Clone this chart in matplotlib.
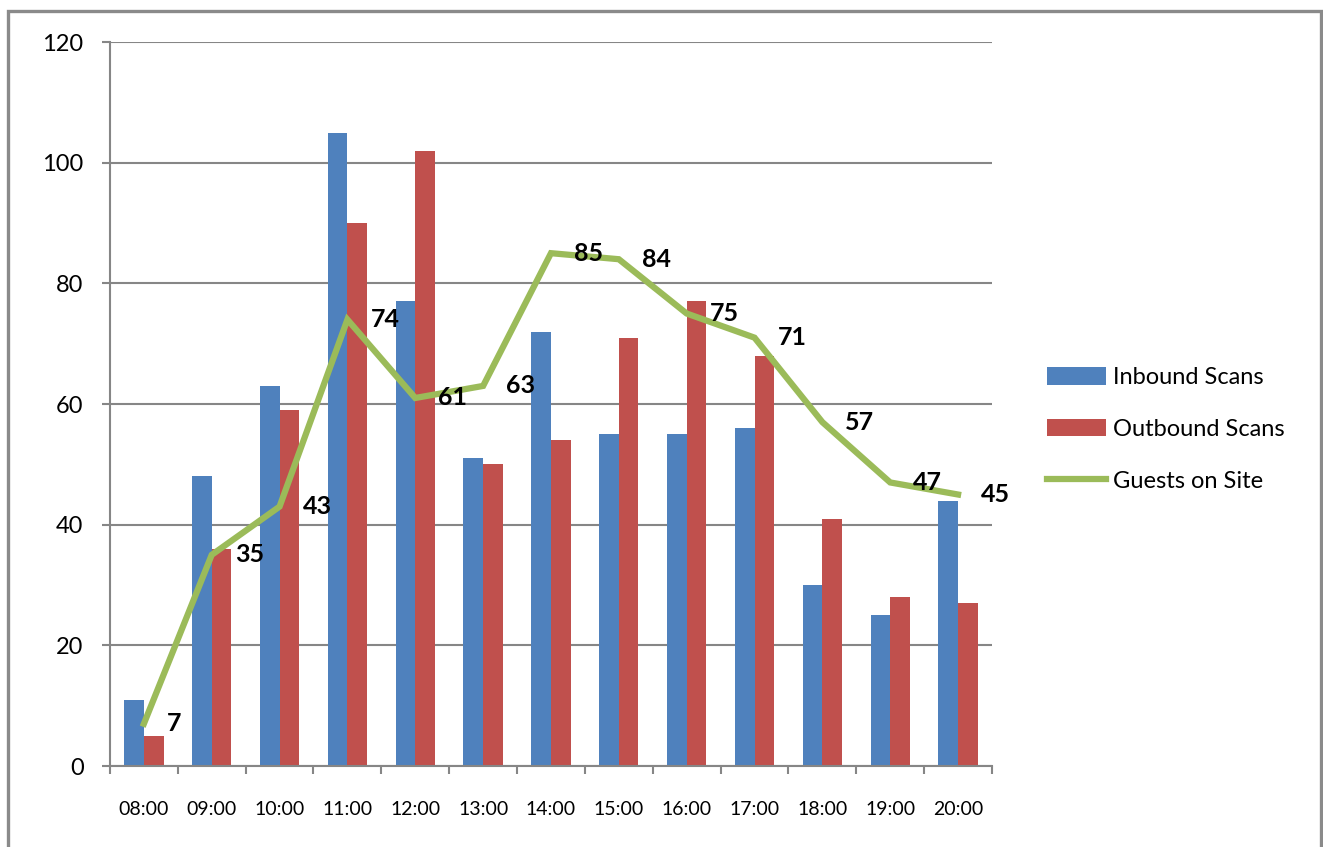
import matplotlib.pyplot as plt
import matplotlib.patches as patches
import numpy as np

plt.rcParams['font.family'] = ['Lato', 'DejaVu Sans']

hours = ['08:00', '09:00', '10:00', '11:00', '12:00', '13:00', '14:00',
         '15:00', '16:00', '17:00', '18:00', '19:00', '20:00']
inbound = [11, 48, 63, 105, 77, 51, 72, 55, 55, 56, 30, 25, 44]
outbound = [5, 36, 59, 90, 102, 50, 54, 71, 77, 68, 41, 28, 27]
guests = [7, 35, 43, 74, 61, 63, 85, 84, 75, 71, 57, 47, 45]

blue = '#4F81BD'
red = '#C0504D'
green = '#9BBB59'
gray = '#868686'

fig = plt.figure(figsize=(13.23, 8.47), dpi=100)
ax = fig.add_axes([0.0831, 0.0956, 0.6667, 0.8548])

x = np.arange(len(hours))
w = 0.29
b1 = ax.bar(x - w / 2, inbound, w, color=blue, label='Inbound Scans', zorder=2)
b2 = ax.bar(x + w / 2, outbound, w, color=red, label='Outbound Scans', zorder=2)
l1, = ax.plot(x, guests, color=green, lw=4.5, label='Guests on Site', zorder=3,
              solid_joinstyle='miter')

# data labels sit to the right of each point
for xi, g in zip(x, guests):
    ax.annotate(str(g), (xi, g), xytext=(23, 0), textcoords='offset pixels',
                ha='left', va='center', fontsize=18, fontweight='bold', zorder=4)

ax.set_xlim(-0.5, len(hours) - 0.5)
ax.set_ylim(0, 120)
ax.set_yticks(range(0, 121, 20))
ax.yaxis.grid(True, color=gray, lw=1.5, zorder=0)
ax.set_axisbelow(True)

ax.set_xticks(x)
ax.set_xticklabels(hours, fontsize=14)
ax.set_xticks(np.arange(-0.5, len(hours)), minor=True)
ax.tick_params(axis='x', which='major', length=0, pad=25)
ax.tick_params(axis='x', which='minor', length=6, width=1.5, color=gray, direction='out')
ax.tick_params(axis='y', length=6, width=1.5, color=gray, pad=13, labelsize=17)

for s in ['top', 'right']:
    ax.spines[s].set_visible(False)
for s in ['left', 'bottom']:
    ax.spines[s].set_color(gray)
    ax.spines[s].set_linewidth(1.5)

fig.legend([b1, b2, l1], ['Inbound Scans', 'Outbound Scans', 'Guests on Site'],
           loc='center left', bbox_to_anchor=(0.775, 0.493), frameon=False,
           fontsize=17, handlelength=2.5, handleheight=0.75, handletextpad=0.3,
           labelspacing=1.3)

frame = patches.Rectangle((8 / 1323, -0.02), 1313 / 1323, 1.02 - 11 / 847,
                          transform=fig.transFigure, fill=False,
                          edgecolor='#8a8a8a', lw=2.4)
fig.patches.append(frame)

fig.savefig('out.png', dpi=100)
